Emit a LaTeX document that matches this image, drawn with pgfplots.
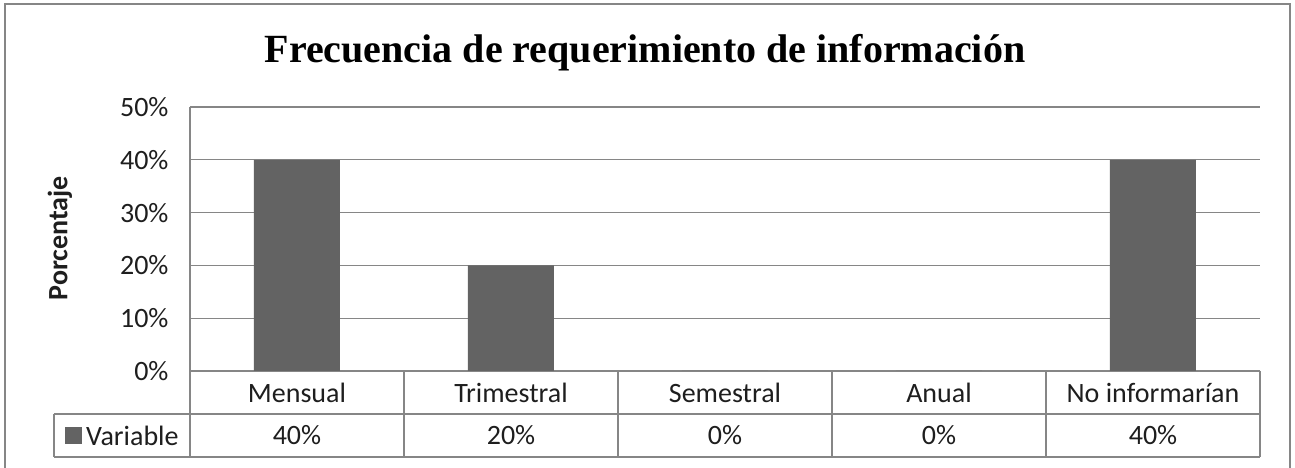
\documentclass[border=0pt]{standalone}
\usepackage{pgfplots}
\pgfplotsset{compat=1.18}
\usepackage{fontspec}
\setmainfont{Carlito}
\newfontfamily\titlefont{Liberation Serif}
\definecolor{bargray}{RGB}{99,99,99}
\definecolor{linegray}{RGB}{134,134,134}
\definecolor{txt}{RGB}{30,30,30}
\begin{document}
\begin{tikzpicture}[x=1pt,y=1pt]
\useasboundingbox (-190,-97) rectangle (1105,371);
\draw[linegray, line width=2.5pt] (-185,-120) rectangle (1100,367);
\node[anchor=base, font=\titlefont\bfseries\fontsize{40}{44}\selectfont] at (455,308) {Frecuencia de requerimiento de información};
\begin{axis}[
  scale only axis, width=1070pt, height=264pt,
  ybar, bar width=86pt,
  xmin=-0.5, xmax=4.5, ymin=0, ymax=50,
  ytick={0,10,...,50},
  yticklabel={\pgfmathprintnumber{\tick}\%},
  /pgf/number format/assume math mode=true,
  xtick=\empty,
  ymajorgrids,
  grid style={linegray, line width=1.2pt},
  axis y line*=left, axis x line*=bottom,
  axis line style={linegray, line width=1.2pt, -},
  major tick length=0pt,
  tick label style={font=\fontsize{28}{32}\selectfont, color=txt},
  yticklabel style={xshift=-18pt},
  clip=false,
]
\addplot[fill=bargray, draw=none] coordinates {(0,40) (1,20) (2,0) (3,0) (4,40)};
\end{axis}
\node[rotate=90, font=\bfseries\fontsize{28}{32}\selectfont, text=txt] at (-130,133) {Porcentaje};
% data table
\begin{scope}[linegray, line width=1.2pt]
\draw (-136,-43) -- (1070,-43);
\draw (-136,-86) -- (1070,-86);
\draw (-136,-43) -- (-136,-86);
\foreach \x in {0,214,428,642,856,1070} \draw (\x,0) -- (\x,-86);
\end{scope}
\begin{scope}[font=\fontsize{28}{32}\selectfont, text=txt]
\node at (107,-21.5) {Mensual};
\node at (321,-21.5) {Trimestral};
\node at (535,-21.5) {Semestral};
\node at (749,-21.5) {Anual};
\node at (963,-21.5) {No informarían};
\node at (107,-64.5) {40\%};
\node at (321,-64.5) {20\%};
\node at (535,-64.5) {0\%};
\node at (749,-64.5) {0\%};
\node at (963,-64.5) {40\%};
\fill[bargray] (-125,-73) rectangle (-108,-56);
\node[anchor=west, inner sep=0pt] at (-104,-64.5) {Variable};
\end{scope}
\end{tikzpicture}
\end{document}
